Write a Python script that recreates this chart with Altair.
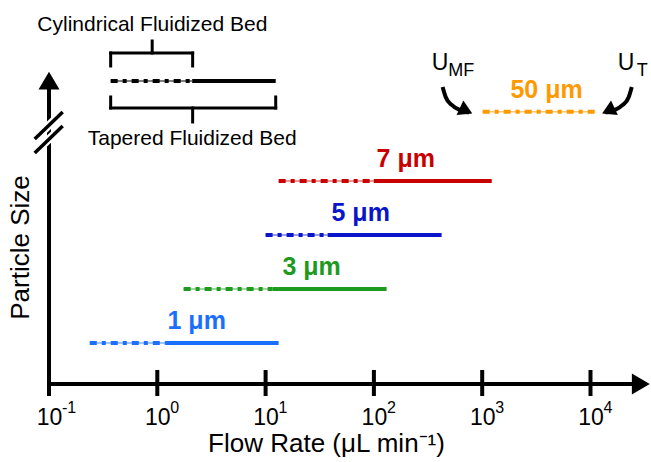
import altair as alt
import pandas as pd

FONT = "Liberation Sans"

# ---- data (flow-rate ranges, µL/min) ----
sizes = ["1 μm", "3 μm", "5 μm", "7 μm", "50 μm"]
colors = ["#1C6EFF", "#1E9A1E", "#0A14C8", "#C80000", "#FF9900"]
levels = [1, 2, 3, 4, 5.28]
u_mf = [0.238, 1.75, 10.0, 13.2, 1010]        # minimum fluidization
cyl_max = [1.2, 11.6, 37.4, 99.6, 10940]      # cylindrical bed upper end
tap_max = [13.2, 131, 422, 1225, 10940]       # tapered bed upper end (U_T)
label_x = [2.31, 26.6, 75.5, 197, 3930]

tick_values = [0.1, 1, 10, 100, 1000, 10000]
tick_base = "10"
tick_exps = ["-1", "0", "1", "2", "3", "4"]

x_min, x_max = 0.1, 36200
y_min, y_max = 0.24, 7.351

xs = alt.Scale(type="log", domain=[x_min, x_max], nice=False)
ys = alt.Scale(domain=[y_min, y_max], nice=False, zero=False)

x_axis = alt.Axis(values=tick_values, domain=False, ticks=False, tickSize=0, grid=False,
                  labelExpr=f"'{tick_base}'", labelFont=FONT, labelFontSize=23, labelColor="black",
                  labelBaseline="alphabetic", labelPadding=40, labelAlign="center",
                  title="Flow Rate (μL min⁻¹)", titleFont=FONT, titleFontSize=26,
                  titleFontWeight="normal", titleColor="black",
                  titleX=277, titleY=67, titleAlign="center", titleBaseline="alphabetic")
y_axis = alt.Axis(domain=False, ticks=False, labels=False, grid=False,
                  title="Particle Size", titleFont=FONT, titleFontSize=26,
                  titleFontWeight="normal", titleColor="black",
                  titleX=-21, titleY=247, titleAlign="center", titleBaseline="alphabetic")


def X(f):
    return alt.X(f"{f}:Q", scale=xs, axis=x_axis)


def Y(f):
    return alt.Y(f"{f}:Q", scale=ys, axis=y_axis)


col = alt.Color("color:N", scale=None)

df = pd.DataFrame({"size": sizes, "color": colors, "level": levels, "umf": u_mf,
                   "cyl": cyl_max, "tap": tap_max, "lx": label_x})

dash_thin = alt.Chart(df).mark_rule(strokeWidth=1.5, opacity=0.55).encode(
    x=X("umf"), x2="cyl", y=Y("level"), color=col)
dash_thick = alt.Chart(df).mark_rule(strokeWidth=4, strokeDash=[7, 5, 4, 5]).encode(
    x=X("umf"), x2="cyl", y=Y("level"), color=col)
solid = alt.Chart(df).transform_filter("datum.tap > datum.cyl").mark_rule(strokeWidth=4).encode(
    x=X("cyl"), x2="tap", y=Y("level"), color=col)
labels = alt.Chart(df).mark_text(font=FONT, fontSize=25, fontWeight="bold", baseline="middle",
                                 dy=-22).encode(x=X("lx"), y=Y("level"), text="size", color=col)

# ---- axes drawn as arrows ----
axis_segs = pd.DataFrame({
    "x": [0.1, 0.1], "x2": [24550, 0.1],
    "y": [0.24, 0.24], "y2": [0.24, 5.72],
})
axis_lines = alt.Chart(axis_segs).mark_rule(strokeWidth=4, color="black").encode(
    x=X("x"), x2="x2", y=Y("y"), y2="y2")

ticks_df = pd.DataFrame({"t": tick_values, "lo": [0.018] * 6, "hi": [0.499] * 6,
                         "e": tick_exps, "ey": [-0.30] * 6})
ticks = alt.Chart(ticks_df).mark_rule(strokeWidth=4, color="black").encode(
    x=X("t"), y=Y("lo"), y2="hi")
exps = alt.Chart(ticks_df).mark_text(font=FONT, fontSize=16, color="black", align="left",
                                     baseline="alphabetic", dx=13).encode(
    x=X("t"), y=Y("ey"), text="e")

heads_df = pd.DataFrame({"x": [35240, 0.1], "y": [0.24, 6.023],
                         "shape": ["M0,0L-1.7,-1L-1.7,1Z", "M0,0L-1,1.7L1,1.7Z"]})
heads = alt.Chart(heads_df).mark_point(filled=True, size=441, color="black", opacity=1,
                                       strokeWidth=0).encode(
    x=X("x"), y=Y("y"), shape=alt.Shape("shape:N", scale=None))

brk = pd.DataFrame({"x": [0.0738, 0.0738], "x2": [0.1338, 0.1338],
                    "y": [4.518, 4.777], "y2": [5.018, 5.277]})
brk_white = alt.Chart(brk).mark_rule(strokeWidth=8, color="white").encode(
    x=X("x"), x2="x2", y=Y("y"), y2="y2")
brk_black = alt.Chart(brk).mark_rule(strokeWidth=3.5, color="black").encode(
    x=X("x"), x2="x2", y=Y("y"), y2="y2")

# ---- legend ----
leg_y = 5.851
leg_df = pd.DataFrame({"a": [0.371], "m": [2.1], "b": [12.4], "y": [leg_y]})
leg_thin = alt.Chart(leg_df).mark_rule(strokeWidth=1.5, color="#555555").encode(
    x=X("a"), x2="m", y=Y("y"))
leg_dash = alt.Chart(leg_df).mark_rule(strokeWidth=4, color="black", strokeDash=[7, 5, 4, 5]).encode(
    x=X("a"), x2="m", y=Y("y"))
leg_solid = alt.Chart(leg_df).mark_rule(strokeWidth=4, color="black").encode(
    x=X("m"), x2="b", y=Y("y"))

br = pd.DataFrame({
    "x": [0.371, 0.371, 2.12, 0.897, 0.371, 0.371, 12.4, 2.12],
    "x2": [2.12, 0.371, 2.12, 0.897, 12.4, 0.371, 12.4, 2.12],
    "y": [6.37, 6.129, 6.129, 6.37, 5.351, 5.351, 5.351, 5.092],
    "y2": [6.37, 6.37, 6.37, 6.592, 5.351, 5.555, 5.555, 5.351],
})
brackets = alt.Chart(br).mark_rule(strokeWidth=3, color="black", strokeCap="square").encode(
    x=X("x"), x2="x2", y=Y("y"), y2="y2")

leg_text_df = pd.DataFrame({"x": [0.9, 2.1], "y": [6.78, 4.666],
                            "t": ["Cylindrical Fluidized Bed", "Tapered Fluidized Bed"]})
leg_text = alt.Chart(leg_text_df).mark_text(font=FONT, fontSize=21, color="black",
                                            baseline="alphabetic").encode(
    x=X("x"), y=Y("y"), text="t")

# ---- U_MF / U_T annotations ----
u_df = pd.DataFrame({"x": [343, 17820], "y": [6.055, 6.055], "t": ["U", "U"]})
u_text = alt.Chart(u_df).mark_text(font=FONT, fontSize=23, color="black", align="left",
                                   baseline="alphabetic").encode(x=X("x"), y=Y("y"), text="t")
sub_df = pd.DataFrame({"x": [485, 26800], "y": [5.94, 5.94], "t": ["MF", "T"]})
sub_text = alt.Chart(sub_df).mark_text(font=FONT, fontSize=18, color="black", align="left",
                                       baseline="alphabetic").encode(x=X("x"), y=Y("y"), text="t")

curve = pd.DataFrame({
    "arrow": ["L"] * 6 + ["R"] * 6,
    "i": list(range(6)) * 2,
    "x": [431, 460, 523, 620, 704, 760, 24040, 22560, 19850, 16740, 14720, 13700],
    "y": [5.74, 5.555, 5.407, 5.314, 5.277, 5.27, 5.74, 5.555, 5.407, 5.314, 5.277, 5.27],
})
curves = alt.Chart(curve).mark_line(strokeWidth=4, color="black", interpolate="monotone").encode(
    x=X("x"), y=Y("y"), detail="arrow:N", order="i:Q")
ahead = pd.DataFrame({"x": [810, 12800], "y": [5.25, 5.25],
                      "shape": ["M0,0L-1.7,-1L-1.7,1Z", "M0,0L1.7,-1L1.7,1Z"],
                      "ang": [25, 335]})
aheads = alt.Chart(ahead).mark_point(filled=True, size=256, color="black", opacity=1,
                                     strokeWidth=0).encode(
    x=X("x"), y=Y("y"), shape=alt.Shape("shape:N", scale=None), angle=alt.Angle("ang:Q", scale=None))

chart = alt.layer(
    axis_lines, ticks, exps, heads, brk_white, brk_black,
    dash_thin, dash_thick, solid, labels,
    leg_thin, leg_dash, leg_solid, brackets, leg_text,
    u_text, sub_text, curves, aheads,
).properties(
    width=602, height=384, autosize="none",
    padding={"left": 49, "top": 0, "right": 0, "bottom": 78},
    background="white",
).configure_view(stroke=None)

chart.save("out.html", embed_options={"renderer": "svg", "actions": False})
